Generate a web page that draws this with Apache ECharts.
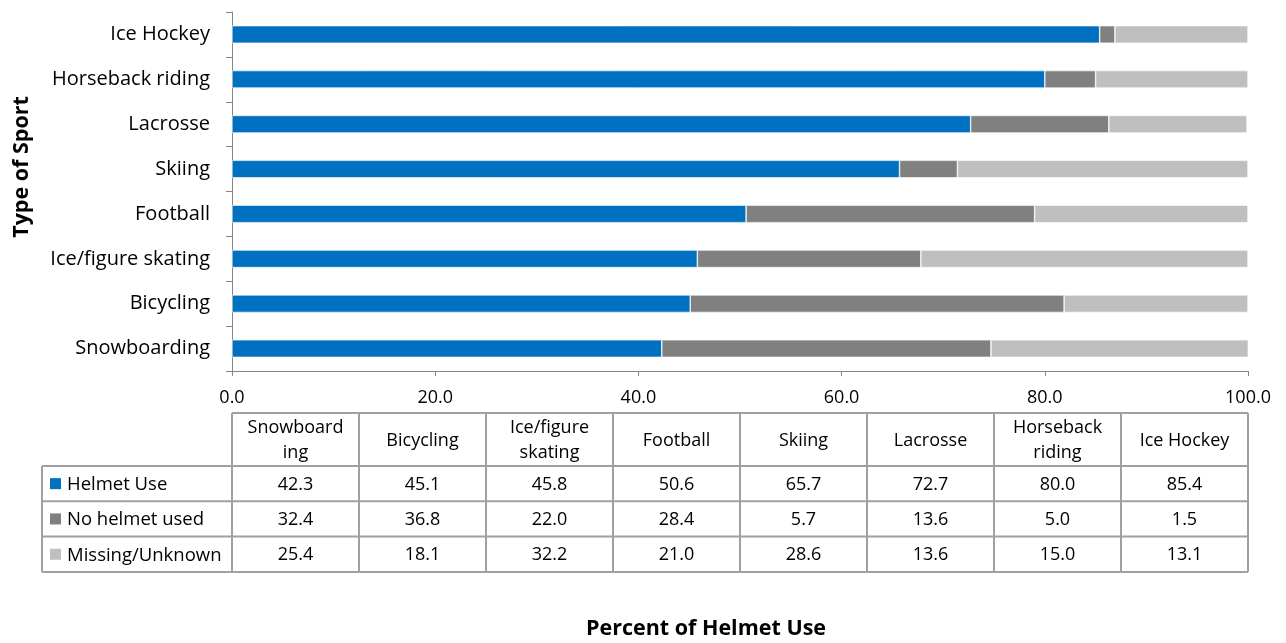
<!DOCTYPE html>
<html><head><meta charset="utf-8">
<script src="https://cdn.jsdelivr.net/npm/echarts@6/dist/echarts.min.js"></script>
<style>html,body{margin:0;padding:0;background:#fff}#c{width:1286px;height:643px}</style>
</head><body><div id="c"></div>
<script>
// ---- data ----
const categories = ['Snowboarding','Bicycling','Ice/figure skating','Football','Skiing','Lacrosse','Horseback riding','Ice Hockey'];
const tableHeaders = ['Snowboard\ning','Bicycling','Ice/figure\nskating','Football','Skiing','Lacrosse','Horseback\nriding','Ice Hockey'];
const seriesNames = ['Helmet Use','No helmet used','Missing/Unknown'];
const helmetUse = [42.3,45.1,45.8,50.6,65.7,72.7,80.0,85.4];
const noHelmet  = [32.4,36.8,22.0,28.4,5.7,13.6,5.0,1.5];
const missing   = [25.4,18.1,32.2,21.0,28.6,13.6,15.0,13.1];
const xMin = 0, xMax = 100, xStep = 20;
const yAxisTitle = 'Type of Sport';
const xAxisTitle = 'Percent of Helmet Use';

const seriesData = [helmetUse, noHelmet, missing];
const colors = ['#0070C0','#808080','#BFBFBF'];
const FONT = '"Open Sans", "Liberation Sans", sans-serif';
const axisColor = '#868686';

const chart = echarts.init(document.getElementById('c'), null, {renderer:'canvas'});
const option = {
  animation: false,
  grid: {left: 232, right: 38, top: 12, bottom: 272, containLabel: false},
  xAxis: {
    type: 'value', min: xMin, max: xMax, interval: xStep,
    axisLine: {show: true, lineStyle: {color: axisColor, width: 1}},
    axisTick: {show: true, length: 5, lineStyle: {color: axisColor}},
    splitLine: {show: false},
    axisLabel: {color: '#000', fontFamily: FONT, fontSize: 18, margin: 18, formatter: v => v.toFixed(1)}
  },
  yAxis: {
    type: 'category', data: categories,
    axisLine: {show: true, lineStyle: {color: axisColor, width: 1}},
    axisTick: {show: true, length: 6, lineStyle: {color: axisColor}},
    axisLabel: {color: '#000', fontFamily: FONT, fontSize: 20, margin: 22}
  },
  series: seriesNames.map((n, i) => ({
    name: n, type: 'bar', stack: 'total', data: seriesData[i],
    barWidth: '39%',
    itemStyle: {color: colors[i], borderColor: '#ffffff', borderWidth: 0.6}
  }))
};
chart.setOption(option);

// ---- data table drawn under the axis ----
const x0 = chart.convertToPixel({xAxisIndex: 0}, xMin);
const x1 = chart.convertToPixel({xAxisIndex: 0}, xMax);
const n = categories.length;
const colW = (x1 - x0) / n;
const legendLeft = 42;
const headTop = 413, headBottom = 466, rowH = 35.3;
const tableBottom = headBottom + rowH * seriesNames.length;
const lineColor = '#A0A0A0';
const g = [];
function ln(a, b, c, d) {
  g.push({type: 'line', silent: true, shape: {x1: a, y1: b, x2: c, y2: d}, style: {stroke: lineColor, lineWidth: 2}});
}
ln(x0, headTop, x1, headTop);
for (let r = 0; r <= seriesNames.length; r++) {
  const y = headBottom + rowH * r;
  ln(legendLeft, y, x1, y);
}
ln(legendLeft, headBottom, legendLeft, tableBottom);
for (let c = 0; c <= n; c++) {
  const x = x0 + colW * c;
  ln(x, headTop, x, tableBottom);
}
tableHeaders.forEach((t, c) => {
  g.push({type: 'text', silent: true, style: {
    text: t, x: x0 + colW * (c + 0.5), y: (headTop + headBottom) / 2 + 1,
    align: 'center', verticalAlign: 'middle', fill: '#000',
    font: '18px ' + FONT, lineHeight: 25
  }});
});
seriesNames.forEach((name, r) => {
  const yc = headBottom + rowH * (r + 0.5);
  g.push({type: 'rect', silent: true, shape: {x: 50, y: yc - 5.5, width: 11, height: 11}, style: {fill: colors[r]}});
  g.push({type: 'text', silent: true, style: {
    text: name, x: 67, y: yc + 1, align: 'left', verticalAlign: 'middle', fill: '#000', font: '18.5px ' + FONT
  }});
  seriesData[r].forEach((v, c) => {
    g.push({type: 'text', silent: true, style: {
      text: v.toFixed(1), x: x0 + colW * (c + 0.5), y: yc + 1,
      align: 'center', verticalAlign: 'middle', fill: '#000', font: '18px ' + FONT
    }});
  });
});
g.push({type: 'text', silent: true, x: 22, y: 167, rotation: Math.PI / 2, style: {
  text: yAxisTitle, x: 0, y: 0, align: 'center', verticalAlign: 'middle', fill: '#000', font: 'bold 21.5px ' + FONT
}});
g.push({type: 'text', silent: true, style: {
  text: xAxisTitle, x: 706, y: 629, align: 'center', verticalAlign: 'middle', fill: '#000', font: 'bold 21.5px ' + FONT
}});
chart.setOption({graphic: {elements: g}});
</script>
</body></html>
